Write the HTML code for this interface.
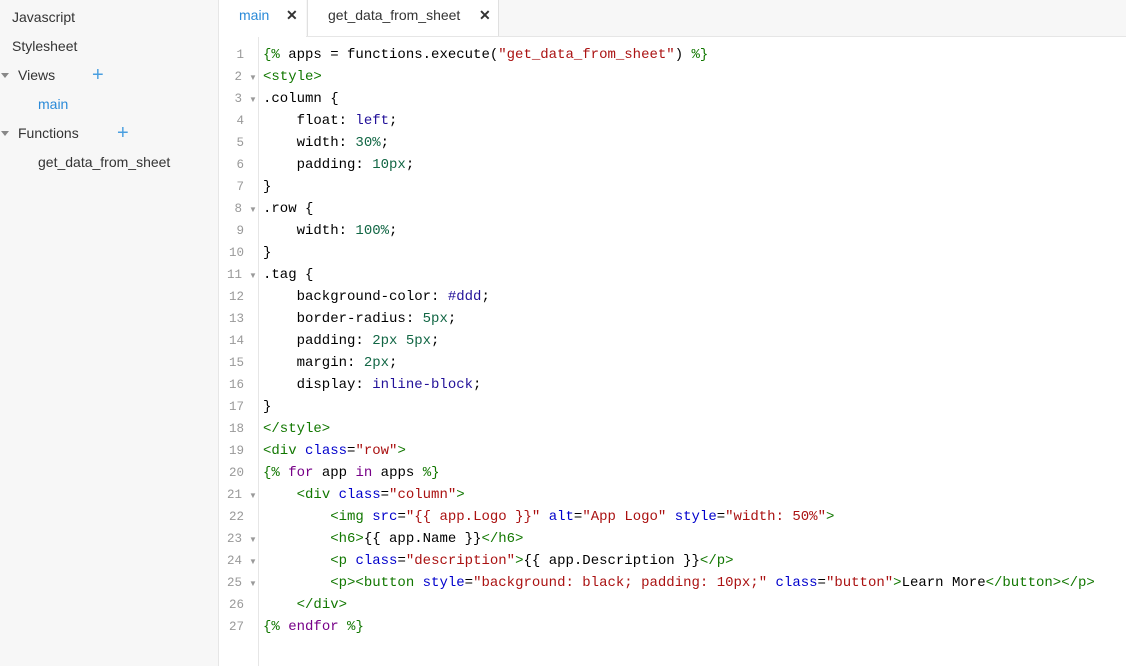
<!DOCTYPE html>
<html><head><style>
body{margin:0;width:1126px;height:666px;overflow:hidden;background:#fff;font-family:"Liberation Sans",sans-serif;position:relative}
#side{position:absolute;left:0;top:0;width:218px;height:666px;background:#f7f7f7;border-right:1px solid #e6e6e6}
.si{position:absolute;font-size:14px;color:#333}
.plus{position:absolute;color:#4a9fe0;font-size:20px;font-weight:300}
.tri{position:absolute;width:0;height:0;border-left:4px solid transparent;border-right:4px solid transparent;border-top:5px solid #888}
#tabs{position:absolute;left:219px;top:0;width:907px;height:36px;background:#f7f7f7;border-bottom:1px solid #e6e6e6}
.tab{position:absolute;top:0;height:36px;font-size:14px;line-height:30px}
#gut{position:absolute;left:219px;top:37px;width:39px;height:629px;border-right:1px solid #e6e6e6;background:#fff}
.ln{position:absolute;left:219px;width:25px;text-align:right;font:12.5px "Liberation Mono",monospace;color:#999}
.fd{position:absolute;left:249px;font-size:8px;color:#999}
.cl{position:absolute;left:263px;font:14px "Liberation Mono",monospace;white-space:pre;color:#000;line-height:22px}
.t{color:#170}.a{color:#00c}.s{color:#a11}.k{color:#708}.n{color:#164}.b{color:#219}
</style></head><body>
<div id="side">
<div class="si" style="left:12px;top:9px">Javascript</div>
<div class="si" style="left:12px;top:38px">Stylesheet</div>
<div class="tri" style="left:1px;top:73px"></div>
<div class="si" style="left:18px;top:67px">Views</div>
<div class="plus" style="left:92px;top:64px">+</div>
<div class="si" style="left:38px;top:96px;color:#2a8ad8">main</div>
<div class="tri" style="left:1px;top:131px"></div>
<div class="si" style="left:18px;top:125px">Functions</div>
<div class="plus" style="left:117px;top:122px">+</div>
<div class="si" style="left:38px;top:154px">get_data_from_sheet</div>
</div>
<div id="tabs">
<div class="tab" style="left:0;width:87px;height:37px;background:#fff"><span style="position:absolute;left:20px;color:#2a8ad8">main</span><span style="position:absolute;left:67px;font-weight:bold;color:#333">✕</span></div>
<div class="tab" style="left:88px;width:190px;background:#fff;border-right:1px solid #e0e0e0;border-left:1px solid #e0e0e0;height:36px"><span style="position:absolute;left:20px;color:#333">get_data_from_sheet</span><span style="position:absolute;left:171px;font-weight:bold;color:#333">✕</span></div>
</div>
<div id="gut"></div>
<div id="code"></div>
<script>
var L=[
'<span class="t">{%</span> apps = functions.execute(<span class="s">"get_data_from_sheet"</span>) <span class="t">%}</span>',
'<span class="t">&lt;style&gt;</span>',
'.column {',
'    float: <span class="b">left</span>;',
'    width: <span class="n">30%</span>;',
'    padding: <span class="n">10px</span>;',
'}',
'.row {',
'    width: <span class="n">100%</span>;',
'}',
'.tag {',
'    background-color: <span class="b">#ddd</span>;',
'    border-radius: <span class="n">5px</span>;',
'    padding: <span class="n">2px 5px</span>;',
'    margin: <span class="n">2px</span>;',
'    display: <span class="b">inline-block</span>;',
'}',
'<span class="t">&lt;/style&gt;</span>',
'<span class="t">&lt;div</span> <span class="a">class</span>=<span class="s">"row"</span><span class="t">&gt;</span>',
'<span class="t">{%</span> <span class="k">for</span> app <span class="k">in</span> apps <span class="t">%}</span>',
'    <span class="t">&lt;div</span> <span class="a">class</span>=<span class="s">"column"</span><span class="t">&gt;</span>',
'        <span class="t">&lt;img</span> <span class="a">src</span>=<span class="s">"{{ app.Logo }}"</span> <span class="a">alt</span>=<span class="s">"App Logo"</span> <span class="a">style</span>=<span class="s">"width: 50%"</span><span class="t">&gt;</span>',
'        <span class="t">&lt;h6&gt;</span>{{ app.Name }}<span class="t">&lt;/h6&gt;</span>',
'        <span class="t">&lt;p</span> <span class="a">class</span>=<span class="s">"description"</span><span class="t">&gt;</span>{{ app.Description }}<span class="t">&lt;/p&gt;</span>',
'        <span class="t">&lt;p&gt;&lt;button</span> <span class="a">style</span>=<span class="s">"background: black; padding: 10px;"</span> <span class="a">class</span>=<span class="s">"button"</span><span class="t">&gt;</span>Learn More<span class="t">&lt;/button&gt;&lt;/p&gt;</span>',
'    <span class="t">&lt;/div&gt;</span>',
'<span class="t">{%</span> <span class="k">endfor</span> <span class="t">%}</span>'];
var F=[2,3,8,11,21,23,24,25],h='';
for(var i=0;i<L.length;i++){var y=44+22*i;
h+='<div class="ln" style="top:'+(y+4)+'px;'+(F.indexOf(i+1)>=0?'width:23px':'')+'">'+(i+1)+'</div>';
if(F.indexOf(i+1)>=0)h+='<div class="fd" style="top:'+(y+7)+'px">▼</div>';
h+='<div class="cl" style="top:'+y+'px">'+L[i]+'</div>';}
document.getElementById('code').innerHTML=h;
</script>
</body></html>
